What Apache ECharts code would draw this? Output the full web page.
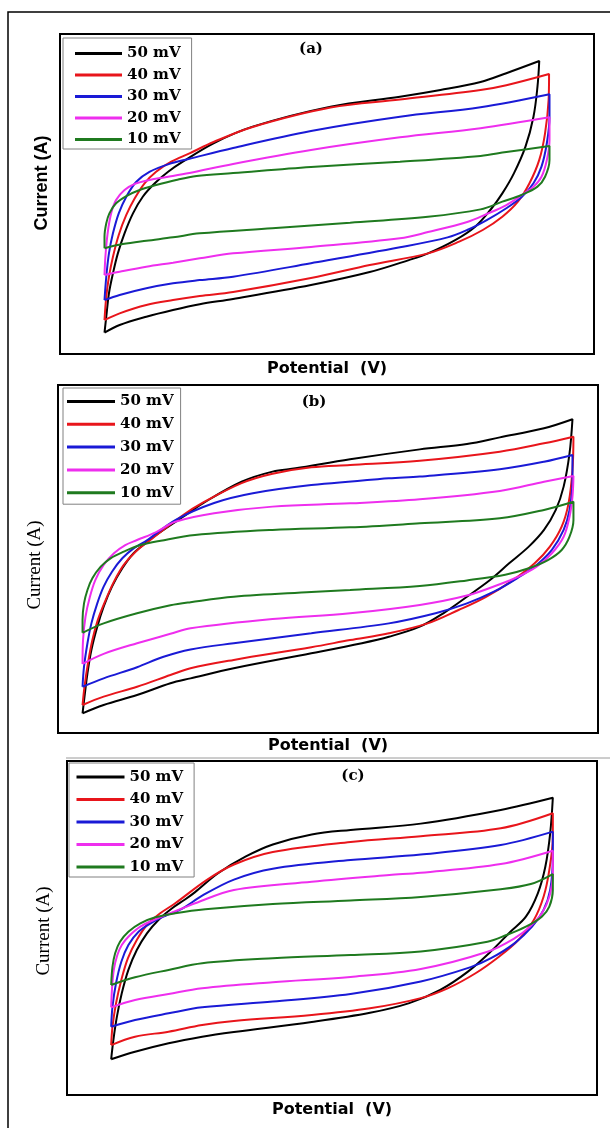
<!DOCTYPE html>
<html>
<head>
<meta charset="utf-8">
<script src="https://cdn.jsdelivr.net/npm/echarts@6/dist/echarts.min.js"></script>
<style>
  html, body { margin: 0; padding: 0; background: #fff; }
  #chart { width: 610px; height: 1128px; }
</style>
</head>
<body>
<div id="chart"></div>
<script>
// scan rates (legend)
var rates = ['50 mV', '40 mV', '30 mV', '20 mV', '10 mV'];
var colors = ['#000000', '#e8151b', '#1a1ad6', '#ee2eee', '#1f7a1f'];

// panel (a) : [potential, current], forward scan then reverse scan
var a50 = [[0,-8.67],[0.004,-7.67],[0.010,-6.21],[0.019,-4.96],[0.030,-3.71],[0.045,-2.46],[0.064,-1.21],[0.086,-0.17],[0.113,0.67],[0.143,1.39],[0.176,2.02],[0.245,3.17],[0.333,4.21],[0.508,5.46],[0.664,6.08],[0.755,6.50],[0.845,7.00],[0.903,7.55],[0.977,8.31],
  [0.973,6.71],[0.964,4.83],[0.946,2.96],[0.920,1.29],[0.894,0.04],[0.867,-1.00],[0.833,-2.04],[0.788,-2.88],[0.727,-3.71],[0.684,-4.13],[0.596,-4.88],[0.464,-5.69],[0.289,-6.56],[0.214,-6.89],[0.154,-7.25],[0.094,-7.67],[0.034,-8.19],[0,-8.67]];
var a40 = [[0,-7.88],[0.004,-6.42],[0.010,-5.17],[0.019,-3.92],[0.032,-2.56],[0.049,-1.31],[0.068,-0.27],[0.090,0.67],[0.116,1.39],[0.150,2.02],[0.191,2.54],[0.245,3.25],[0.333,4.19],[0.508,5.40],[0.664,5.90],[0.845,6.50],[0.903,6.80],[0.999,7.50],
  [0.998,5.88],[0.990,3.79],[0.977,2.13],[0.955,0.67],[0.929,-0.48],[0.894,-1.42],[0.850,-2.25],[0.797,-2.98],[0.727,-3.71],[0.596,-4.44],[0.464,-5.25],[0.289,-6.13],[0.214,-6.38],[0.154,-6.63],[0.094,-6.94],[0.034,-7.46],[0,-7.88]];
var a30 = [[0,-6.63],[0.004,-5.17],[0.010,-3.71],[0.019,-2.46],[0.032,-1.21],[0.049,-0.17],[0.071,0.75],[0.101,1.38],[0.146,1.88],[0.191,2.20],[0.289,2.88],[0.464,3.94],[0.664,4.83],[0.845,5.42],[1.0,6.23],
  [1.0,4.83],[0.994,3.17],[0.982,1.71],[0.964,0.67],[0.938,-0.17],[0.903,-0.89],[0.859,-1.63],[0.815,-2.25],[0.771,-2.71],[0.664,-3.33],[0.464,-4.33],[0.289,-5.17],[0.214,-5.38],[0.154,-5.58],[0.094,-5.89],[0.034,-6.31],[0,-6.63]];
var a20 = [[0,-5.06],[0.002,-3.92],[0.007,-2.46],[0.015,-1.21],[0.026,-0.38],[0.045,0.25],[0.068,0.63],[0.101,0.88],[0.140,1.06],[0.191,1.31],[0.289,1.88],[0.464,2.75],[0.664,3.54],[0.845,4.11],[1.0,4.79],
  [1.0,3.38],[0.994,2.13],[0.982,1.08],[0.964,0.46],[0.938,-0.06],[0.903,-0.69],[0.859,-1.25],[0.815,-1.75],[0.727,-2.38],[0.664,-2.77],[0.464,-3.31],[0.289,-3.71],[0.214,-4.02],[0.154,-4.29],[0.094,-4.54],[0.034,-4.86],[0,-5.06]];
var a10 = [[0,-3.39],[0,-2.67],[0.004,-1.83],[0.011,-1.21],[0.026,-0.58],[0.049,-0.13],[0.079,0.25],[0.116,0.56],[0.161,0.88],[0.207,1.13],[0.289,1.31],[0.464,1.69],[0.664,2.02],[0.845,2.38],[0.903,2.62],[1.0,3.0],
  [1.0,2.13],[0.99,1.08],[0.973,0.46],[0.937,-0.06],[0.894,-0.48],[0.845,-0.96],[0.727,-1.42],[0.552,-1.79],[0.377,-2.14],[0.214,-2.46],[0.154,-2.71],[0.094,-2.92],[0.041,-3.13],[0,-3.39]];

// panel (b)
var b50 = [[0,-8.87],[0.004,-7.91],[0.010,-6.57],[0.018,-5.23],[0.030,-3.89],[0.043,-2.74],[0.060,-1.59],[0.081,-0.53],[0.104,0.33],[0.132,0.99],[0.150,1.38],[0.205,2.43],[0.245,3.20],[0.324,4.44],[0.387,5.02],[0.434,5.21],[0.545,5.73],[0.687,6.30],[0.783,6.61],[0.850,6.99],[0.940,7.51],[0.998,8.03],
  [0.992,6.07],[0.980,4.16],[0.964,2.82],[0.940,1.67],[0.909,0.71],[0.869,-0.25],[0.830,-1.21],[0.783,-2.17],[0.735,-3.12],[0.687,-3.89],[0.624,-4.47],[0.569,-4.84],[0.466,-5.42],[0.308,-6.28],[0.220,-6.86],[0.179,-7.14],[0.111,-7.82],[0.043,-8.39],[0,-8.87]];
var b40 = [[0,-8.39],[0.004,-7.34],[0.011,-5.99],[0.020,-4.66],[0.031,-3.51],[0.047,-2.36],[0.064,-1.30],[0.084,-0.34],[0.108,0.42],[0.138,1.09],[0.205,2.53],[0.245,3.24],[0.324,4.36],[0.387,4.90],[0.466,5.27],[0.545,5.40],[0.687,5.65],[0.850,6.17],[0.940,6.65],[1.0,7.03],
  [0.998,5.11],[0.990,3.20],[0.976,1.86],[0.952,0.71],[0.921,-0.25],[0.877,-1.21],[0.822,-2.17],[0.766,-2.93],[0.703,-3.70],[0.624,-4.27],[0.545,-4.66],[0.466,-5.07],[0.308,-5.80],[0.220,-6.28],[0.179,-6.67],[0.111,-7.34],[0.043,-7.91],[0,-8.39]];
var b30 = [[0,-7.34],[0.003,-6.19],[0.010,-4.84],[0.018,-3.70],[0.030,-2.55],[0.043,-1.59],[0.060,-0.73],[0.081,0.04],[0.104,0.61],[0.132,1.09],[0.189,2.24],[0.268,3.22],[0.347,3.78],[0.466,4.25],[0.624,4.64],[0.687,4.74],[0.850,5.16],[0.940,5.59],[0.998,5.98],
  [0.998,4.54],[0.992,2.82],[0.980,1.67],[0.956,0.52],[0.925,-0.34],[0.885,-1.11],[0.838,-1.88],[0.783,-2.55],[0.719,-3.12],[0.624,-3.70],[0.466,-4.27],[0.308,-4.84],[0.220,-5.20],[0.165,-5.62],[0.111,-6.22],[0.043,-6.86],[0,-7.34]];
var b20 = [[0,-6.03],[0.001,-4.66],[0.006,-3.32],[0.015,-2.17],[0.026,-1.21],[0.043,-0.34],[0.064,0.33],[0.087,0.80],[0.111,1.09],[0.150,1.55],[0.189,2.14],[0.268,2.63],[0.387,3.01],[0.545,3.20],[0.687,3.43],[0.850,3.91],[0.940,4.44],[1.0,4.77],
  [0.998,3.58],[0.992,2.43],[0.980,1.28],[0.956,0.33],[0.925,-0.44],[0.885,-1.05],[0.850,-1.45],[0.783,-2.10],[0.687,-2.64],[0.545,-3.12],[0.387,-3.45],[0.220,-3.98],[0.179,-4.30],[0.111,-4.84],[0.043,-5.45],[0,-6.03]];
var b10 = [[0,-4.24],[0,-3.51],[0.003,-2.55],[0.010,-1.78],[0.020,-1.11],[0.037,-0.44],[0.057,0.04],[0.084,0.42],[0.118,0.80],[0.159,1.05],[0.229,1.38],[0.387,1.67],[0.545,1.82],[0.687,2.05],[0.850,2.34],[0.940,2.82],[1.0,3.29],
  [1.0,2.24],[0.992,1.28],[0.976,0.52],[0.948,-0.06],[0.909,-0.53],[0.861,-0.90],[0.783,-1.23],[0.687,-1.55],[0.545,-1.78],[0.466,-1.90],[0.308,-2.17],[0.220,-2.48],[0.179,-2.66],[0.111,-3.12],[0.043,-3.70],[0,-4.24]];

// panel (c)
var c50 = [[0,-7.86],[0.005,-6.71],[0.013,-5.31],[0.024,-3.91],[0.039,-2.51],[0.058,-1.32],[0.081,-0.32],[0.107,0.48],[0.138,1.18],[0.168,1.72],[0.190,2.15],[0.242,3.28],[0.304,4.27],[0.366,5.00],[0.454,5.60],[0.542,5.87],[0.701,6.25],[0.882,7.07],[1.0,7.80],
  [0.994,5.67],[0.983,3.67],[0.966,2.08],[0.939,0.68],[0.904,-0.22],[0.860,-1.40],[0.807,-2.63],[0.745,-3.71],[0.675,-4.50],[0.586,-5.08],[0.454,-5.63],[0.278,-6.23],[0.206,-6.51],[0.130,-6.90],[0.054,-7.41],[0,-7.86]];
var c40 = [[0,-7.01],[0.003,-5.91],[0.011,-4.51],[0.023,-3.11],[0.038,-1.81],[0.058,-0.72],[0.081,0.18],[0.111,0.88],[0.145,1.48],[0.216,2.87],[0.278,3.80],[0.366,4.55],[0.542,5.15],[0.701,5.50],[0.882,5.97],[1.0,6.87],
  [1.0,5.47],[0.992,3.47],[0.979,1.87],[0.957,0.48],[0.922,-0.72],[0.878,-1.72],[0.825,-2.71],[0.763,-3.60],[0.701,-4.20],[0.586,-4.81],[0.454,-5.21],[0.278,-5.57],[0.206,-5.81],[0.130,-6.21],[0.054,-6.51],[0,-7.01]];
var c30 = [[0,-5.91],[0.003,-4.71],[0.011,-3.31],[0.023,-2.02],[0.039,-1.02],[0.062,-0.22],[0.092,0.32],[0.122,0.72],[0.160,1.15],[0.207,1.95],[0.278,2.90],[0.366,3.55],[0.542,4.07],[0.701,4.40],[0.882,4.97],[1.0,5.77],
  [1.0,4.27],[0.994,2.28],[0.979,1.08],[0.953,0.08],[0.913,-0.92],[0.860,-1.81],[0.814,-2.34],[0.701,-3.20],[0.542,-3.95],[0.366,-4.40],[0.206,-4.75],[0.130,-5.11],[0.054,-5.51],[0,-5.91]];
var c20 = [[0,-4.75],[0.002,-3.61],[0.006,-2.51],[0.014,-1.62],[0.024,-1.02],[0.039,-0.52],[0.066,0.08],[0.100,0.52],[0.130,0.85],[0.168,1.25],[0.190,1.48],[0.278,2.28],[0.454,2.77],[0.630,3.17],[0.701,3.31],[0.882,3.83],[1.0,4.63],
  [1.0,3.28],[0.992,1.87],[0.975,0.88],[0.948,0.08],[0.913,-0.62],[0.852,-1.42],[0.701,-2.45],[0.542,-2.93],[0.366,-3.25],[0.206,-3.61],[0.130,-3.95],[0.054,-4.31],[0,-4.75]];
var c10 = [[0,-3.41],[0.003,-2.32],[0.009,-1.51],[0.020,-0.82],[0.039,-0.22],[0.066,0.28],[0.100,0.64],[0.145,0.88],[0.213,1.12],[0.366,1.44],[0.542,1.65],[0.701,1.86],[0.882,2.32],[0.950,2.63],[1.0,3.23],
  [1.0,2.28],[0.992,1.28],[0.975,0.68],[0.939,0.08],[0.895,-0.42],[0.852,-0.82],[0.701,-1.40],[0.542,-1.62],[0.366,-1.81],[0.206,-2.11],[0.130,-2.51],[0.054,-2.95],[0,-3.41]];

var panels = [
  {curves: [a50, a40, a30, a20, a10], xMin: -0.1, xMax: 1.1},
  {curves: [b50, b40, b30, b20, b10], xMin: -0.05, xMax: 1.05},
  {curves: [c50, c40, c30, c20, c10], xMin: -0.1, xMax: 1.1}
];

var chart = echarts.init(document.getElementById('chart'));

var grids = [
  {left: 60, top: 34, width: 534, height: 320},
  {left: 58, top: 385, width: 540, height: 348},
  {left: 67, top: 761, width: 530, height: 334}
];
var nameGaps = [7, 5, 7];

var xAxes = [], yAxes = [], series = [];
panels.forEach(function (p, i) {
  grids[i].show = true;
  grids[i].borderColor = '#000';
  grids[i].borderWidth = 2;
  xAxes.push({
    gridIndex: i, type: 'value', min: p.xMin, max: p.xMax,
    name: 'Potential  (V)', nameLocation: 'middle', nameGap: nameGaps[i],
    nameTextStyle: {fontFamily: 'DejaVu Sans', fontWeight: 'bold', fontSize: 16, color: '#000'},
    axisLine: {show: false}, axisTick: {show: false}, axisLabel: {show: false}, splitLine: {show: false}
  });
  yAxes.push({
    gridIndex: i, type: 'value', min: -10, max: 10,
    axisLine: {show: false}, axisTick: {show: false}, axisLabel: {show: false}, splitLine: {show: false}
  });
  p.curves.forEach(function (d, k) {
    series.push({
      name: rates[k], type: 'line', xAxisIndex: i, yAxisIndex: i,
      data: d, smooth: 0.35, showSymbol: false,
      lineStyle: {color: colors[k], width: 2}, itemStyle: {color: colors[k]}
    });
  });
});

// legend boxes
var legendText = {fontFamily: 'DejaVu Serif', fontWeight: 'bold', fontSize: 15, lineHeight: 15, color: '#000'};
var legends = [
  {left: 63, top: 38, padding: [8, 11, 2, 12], itemWidth: 47, itemGap: 6.5},
  {left: 63, top: 388, padding: [6, 7, 4, 4], itemWidth: 48, itemGap: 7.8},
  {left: 69, top: 763, padding: [6.5, 11, 2.5, 7.5], itemWidth: 48, itemGap: 7.5}
].map(function (l) {
  l.orient = 'vertical';
  l.data = rates;
  l.icon = 'rect';
  l.itemHeight = 3;
  l.borderColor = '#808080';
  l.borderWidth = 1;
  l.textStyle = legendText;
  l.selectedMode = false;
  return l;
});

function label(text, x, y, font, rot) {
  return {type: 'text', x: x, y: y, rotation: rot || 0, z: 10,
    style: {text: text, font: font, fill: '#000', textAlign: 'center', textVerticalAlign: 'middle'}};
}

var option = {
  animation: false,
  grid: grids,
  xAxis: xAxes,
  yAxis: yAxes,
  legend: legends,
  series: series,
  graphic: [
    {type: 'polyline', shape: {points: [[8, 1128], [8, 12], [610, 12]]}, style: {stroke: '#000', lineWidth: 1.5, fill: null}},
    {type: 'line', shape: {x1: 66, y1: 758, x2: 610, y2: 758}, style: {stroke: '#9a9a9a', lineWidth: 1}},
    label('(a)', 311, 49, 'bold 15px "DejaVu Serif"'),
    label('(b)', 314, 402, 'bold 15px "DejaVu Serif"'),
    label('(c)', 353, 776, 'bold 15px "DejaVu Serif"'),
    label('Current (A)', 42, 183, 'bold 18px "Liberation Sans"', Math.PI / 2),
    label('Current (A)', 35, 565, '19px "Liberation Serif"', Math.PI / 2),
    label('Current (A)', 44, 931, '19px "Liberation Serif"', Math.PI / 2)
  ]
};
chart.setOption(option);
</script>
</body>
</html>
